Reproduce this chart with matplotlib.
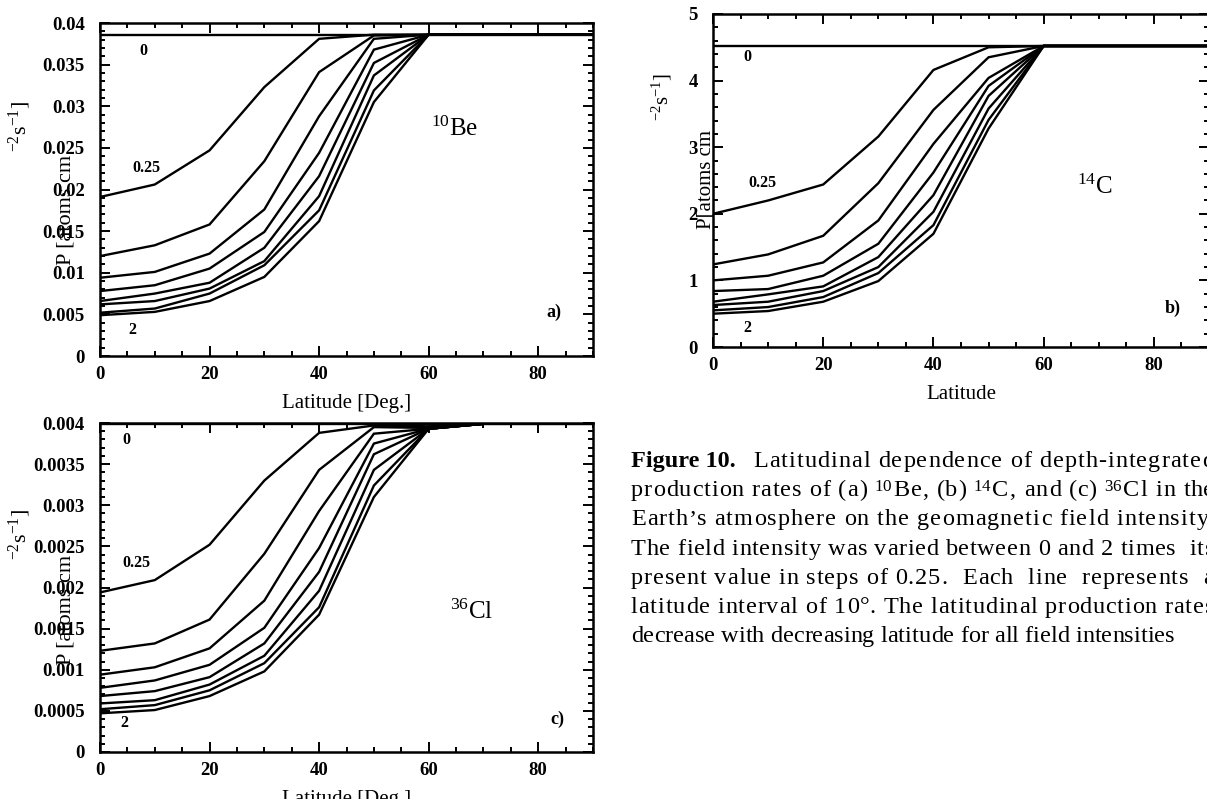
import matplotlib
matplotlib.use("Agg")
import matplotlib.pyplot as plt
from matplotlib.ticker import MultipleLocator
from matplotlib.font_manager import FontProperties

plt.rcParams['font.family'] = ['Liberation Serif', 'DejaVu Serif']
plt.rcParams['mathtext.fontset'] = 'custom'
plt.rcParams['mathtext.rm'] = 'Liberation Serif'
plt.rcParams['mathtext.it'] = 'Liberation Serif:italic'
plt.rcParams['mathtext.bf'] = 'Liberation Serif:bold'

# ---------------- data ----------------
latitude = [0, 10, 20, 30, 40, 50, 60, 70, 80, 90]
field_intensity = [0, 0.25, 0.5, 0.75, 1.0, 1.25, 1.5, 1.75, 2.0]

be10_f000 = [0.0386, 0.0386, 0.0386, 0.0386, 0.0386, 0.0386, 0.0386, 0.0386, 0.0386, 0.0386]
be10_f025 = [0.0191, 0.0206, 0.0247, 0.0323, 0.0381, 0.0386, 0.0386, 0.0386, 0.0386, 0.0386]
be10_f050 = [0.0120, 0.0133, 0.0158, 0.0234, 0.0341, 0.0385, 0.0386, 0.0386, 0.0386, 0.0386]
be10_f075 = [0.0094, 0.0101, 0.0123, 0.0176, 0.0288, 0.0381, 0.0386, 0.0386, 0.0386, 0.0386]
be10_f100 = [0.0078, 0.0085, 0.0105, 0.0149, 0.0244, 0.0368, 0.0386, 0.0386, 0.0386, 0.0386]
be10_f125 = [0.0066, 0.0075, 0.0088, 0.0130, 0.0216, 0.0352, 0.0386, 0.0386, 0.0386, 0.0386]
be10_f150 = [0.0062, 0.0066, 0.0081, 0.0114, 0.0192, 0.0337, 0.0386, 0.0386, 0.0386, 0.0386]
be10_f175 = [0.0052, 0.0057, 0.0075, 0.0109, 0.0175, 0.0319, 0.0386, 0.0386, 0.0386, 0.0386]
be10_f200 = [0.0049, 0.0053, 0.0066, 0.0095, 0.0162, 0.0305, 0.0386, 0.0386, 0.0386, 0.0386]

c14_f000 = [4.52, 4.52, 4.52, 4.52, 4.52, 4.52, 4.52, 4.52, 4.52, 4.52]
c14_f025 = [2.00, 2.20, 2.44, 3.16, 4.16, 4.50, 4.52, 4.52, 4.52, 4.52]
c14_f050 = [1.24, 1.39, 1.67, 2.46, 3.56, 4.35, 4.52, 4.52, 4.52, 4.52]
c14_f075 = [1.00, 1.07, 1.27, 1.90, 3.05, 4.04, 4.52, 4.52, 4.52, 4.52]
c14_f100 = [0.84, 0.87, 1.07, 1.55, 2.62, 3.92, 4.52, 4.52, 4.52, 4.52]
c14_f125 = [0.68, 0.79, 0.91, 1.35, 2.28, 3.77, 4.52, 4.52, 4.52, 4.52]
c14_f150 = [0.63, 0.68, 0.84, 1.20, 2.03, 3.58, 4.52, 4.52, 4.52, 4.52]
c14_f175 = [0.55, 0.60, 0.75, 1.11, 1.83, 3.41, 4.52, 4.52, 4.52, 4.52]
c14_f200 = [0.50, 0.54, 0.68, 0.99, 1.70, 3.28, 4.52, 4.52, 4.52, 4.52]

cl36_f000 = [0.00399, 0.00399, 0.00399, 0.00399, 0.00399, 0.00399, 0.00399, 0.00399, 0.00399, 0.00399]
cl36_f025 = [0.00194, 0.00209, 0.00252, 0.00330, 0.00388, 0.00397, 0.00396, 0.00399, 0.00399, 0.00399]
cl36_f050 = [0.00123, 0.00132, 0.00161, 0.00241, 0.00343, 0.00395, 0.00394, 0.00399, 0.00399, 0.00399]
cl36_f075 = [0.00094, 0.00103, 0.00126, 0.00184, 0.00293, 0.00387, 0.00393, 0.00399, 0.00399, 0.00399]
cl36_f100 = [0.00078, 0.00087, 0.00106, 0.00151, 0.00248, 0.00375, 0.00393, 0.00399, 0.00399, 0.00399]
cl36_f125 = [0.00068, 0.00074, 0.00091, 0.00132, 0.00219, 0.00362, 0.00393, 0.00399, 0.00399, 0.00399]
cl36_f150 = [0.00059, 0.00063, 0.00082, 0.00117, 0.00196, 0.00343, 0.00393, 0.00399, 0.00399, 0.00399]
cl36_f175 = [0.00052, 0.00057, 0.00075, 0.00108, 0.00176, 0.00324, 0.00393, 0.00399, 0.00399, 0.00399]
cl36_f200 = [0.00047, 0.00051, 0.00068, 0.00098, 0.00167, 0.00310, 0.00393, 0.00399, 0.00399, 0.00399]

be10_curves = [be10_f000, be10_f025, be10_f050, be10_f075, be10_f100,
               be10_f125, be10_f150, be10_f175, be10_f200]
c14_curves = [c14_f000, c14_f025, c14_f050, c14_f075, c14_f100,
              c14_f125, c14_f150, c14_f175, c14_f200]
cl36_curves = [cl36_f000, cl36_f025, cl36_f050, cl36_f075, cl36_f100,
               cl36_f125, cl36_f150, cl36_f175, cl36_f200]

xticks = [0, 20, 40, 60, 80]
xtick_labels = ["0", "20", "40", "60", "80"]
be10_yticks = [0, 0.005, 0.01, 0.015, 0.02, 0.025, 0.03, 0.035, 0.04]
be10_ylabels = ["0", "0.005", "0.01", "0.015", "0.02", "0.025", "0.03", "0.035", "0.04"]
c14_yticks = [0, 1, 2, 3, 4, 5]
c14_ylabels = ["0", "1", "2", "3", "4", "5"]
cl36_yticks = [0, 0.0005, 0.001, 0.0015, 0.002, 0.0025, 0.003, 0.0035, 0.004]
cl36_ylabels = ["0", "0.0005", "0.001", "0.0015", "0.002", "0.0025", "0.003", "0.0035", "0.004"]

caption_head = "Figure 10."
caption_first = "Latitudinal dependence of depth-integrated"
caption_lines = [
    "production rates of (a) $^{10}$Be, (b) $^{14}$C, and (c) $^{36}$Cl in the",
    "Earth\u2019s atmosphere on the geomagnetic field intensity.",
    "The field intensity was varied between 0 and 2 times  its",
    "present value in steps of 0.25.  Each  line  represents  a",
    "latitude interval of 10\u00b0. The latitudinal production rates",
    "decrease with decreasing latitude for all field intensities",
]

# ---------------- figure ----------------
W, H = 1207, 799
fig = plt.figure(figsize=(W / 100, H / 100), dpi=100)


def px_axes(l, t, r, b):
    return fig.add_axes([l / W, 1 - b / H, (r - l) / W, (b - t) / H])


def fx(x):
    return x / W


def fy(y):
    return 1 - y / H


def style(ax, ymax, yticks, ylabels, yminor, xlabel):
    ax.set_xlim(0, 90)
    ax.set_ylim(0, ymax)
    ax.set_xticks(xticks)
    ax.set_xticklabels(xtick_labels)
    ax.set_yticks(yticks)
    ax.set_yticklabels(ylabels)
    ax.xaxis.set_minor_locator(MultipleLocator(5))
    ax.yaxis.set_minor_locator(MultipleLocator(yminor))
    ax.tick_params(which='both', direction='in', top=True, right=True, width=1.4)
    ax.tick_params(which='major', length=7)
    ax.tick_params(which='minor', length=3.5)
    ax.tick_params(axis='x', pad=7)
    ax.tick_params(axis='y', pad=11)
    for lab in ax.get_xticklabels() + ax.get_yticklabels():
        lab.set_fontweight('bold')
        lab.set_fontsize(13.5)
    for sp in ax.spines.values():
        sp.set_linewidth(1.8)
    ax.set_xlabel(xlabel, fontsize=15, labelpad=8)


def draw(ax, curves):
    for vals in curves:
        ax.plot(latitude, vals, color='black', lw=1.7, solid_joinstyle='miter')


ax_a = px_axes(100, 23, 593, 356)
ax_b = px_axes(713, 14, 1209, 347)
ax_c = px_axes(100, 423, 593, 752)

draw(ax_a, be10_curves)
draw(ax_b, c14_curves)
draw(ax_c, cl36_curves)

style(ax_a, 0.04, be10_yticks, be10_ylabels, 0.001, "Latitude [Deg.]")
style(ax_b, 5, c14_yticks, c14_ylabels, 0.2, "Latitude")
style(ax_c, 0.004, cl36_yticks, cl36_ylabels, 0.0001, "Latitude [Deg.]")

lab_kw = dict(fontsize=11.5, fontweight='bold', ha='center', va='center')
# panel a annotations
ax_a.text(7.9, 0.0366, "0", **lab_kw)
ax_a.text(8.4, 0.0226, "0.25", **lab_kw)
ax_a.text(5.9, 0.0031, "2", **lab_kw)
ax_a.text(64.7, 0.0273, r"$^{10}$Be", fontsize=18, ha='center', va='center')
ax_a.text(82.8, 0.0053, "a)", fontsize=13, fontweight='bold', ha='center', va='center')
# panel b annotations
ax_b.text(6.3, 4.36, "0", **lab_kw)
ax_b.text(8.9, 2.46, "0.25", **lab_kw)
ax_b.text(6.3, 0.28, "2", **lab_kw)
ax_b.text(69.3, 2.40, r"$^{14}$C", fontsize=18, ha='center', va='center')
ax_b.text(83.4, 0.58, "b)", fontsize=13, fontweight='bold', ha='center', va='center')
# panel c annotations
ax_c.text(4.9, 0.00379, "0", **lab_kw)
ax_c.text(6.6, 0.00230, "0.25", **lab_kw)
ax_c.text(4.4, 0.00035, "2", **lab_kw)
ax_c.text(67.8, 0.00171, r"$^{36}$Cl", fontsize=18, ha='center', va='center')
ax_c.text(83.5, 0.00040, "c)", fontsize=13, fontweight='bold', ha='center', va='center')


# y-axis labels (rendered in two offset pieces, as in the original)
def ylab(x_main, y_main, x_sup, y_sup, main_text, size=16):
    fig.text(fx(x_main), fy(y_main), main_text, rotation=90, fontsize=size,
             ha='right', va='bottom')
    fig.text(fx(x_sup), fy(y_sup), r"$^{-2}$s$^{-1}$]", rotation=90, fontsize=size,
             ha='right', va='bottom')


ylab(75, 265, 33, 152, "P [atoms cm")
ylab(716, 229, 674, 121, "P[atoms cm", size=15)
ylab(75, 665, 33, 560, "P [atoms cm")

# ---------------- caption (slightly letter-spaced justified lines) ----------------
renderer = fig.canvas.get_renderer()
cap_prop = FontProperties(family='Liberation Serif', size=17.5)
cap_bold = FontProperties(family='Liberation Serif', size=17.5, weight='bold')


def tw(s):
    ismath = s.count('$') >= 2
    w, h, d = renderer.get_text_width_height_descent(s, cap_prop, ismath=ismath)
    return w


def tokens_of(text):
    toks = []
    i = 0
    while i < len(text):
        if text[i] == '$':
            j = text.index('$', i + 1)
            toks.append(text[i:j + 1])
            i = j + 1
        else:
            toks.append(text[i])
            i += 1
    return toks


def place_line(text, x_left, y_base, x_right=None):
    toks = tokens_of(text)
    n = len(toks)
    extra = 0.0
    if x_right is not None and n > 1:
        extra = ((x_right - x_left) - tw(text)) / (n - 1)
    for i, t in enumerate(toks):
        if t == ' ':
            continue
        prefix = "".join(toks[:i + 1])
        pos = tw(prefix) - tw(t)
        fig.text(fx(x_left + pos + i * extra), fy(y_base), t,
                 fontproperties=cap_prop, ha='left', va='baseline')


cap_x = 631
cap_base0 = 467
cap_dy = 29.2
cap_right = 1214

fig.text(fx(cap_x), fy(cap_base0), caption_head, fontproperties=cap_bold,
         ha='left', va='baseline')
place_line(caption_first, 753, cap_base0, cap_right)
for i, line in enumerate(caption_lines):
    right = cap_right if i < len(caption_lines) - 1 else None
    place_line(line, cap_x, cap_base0 + cap_dy * (i + 1), right)

fig.savefig("out.png", dpi=100)
